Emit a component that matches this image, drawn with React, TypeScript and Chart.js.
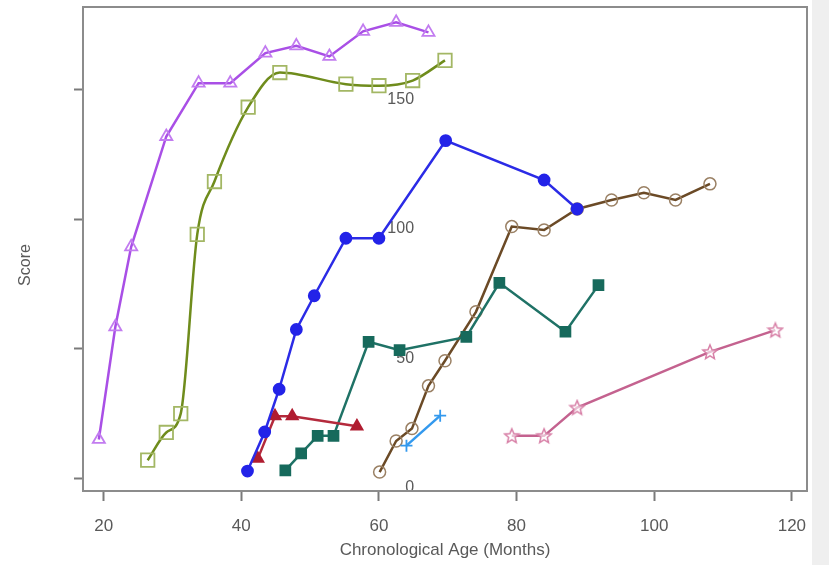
import React, { useEffect, useRef } from "react";
import { Chart, registerables } from "chart.js";

Chart.register(...registerables);

const X_TICKS = [20, 40, 60, 80, 100, 120];
const Y_TICKS = [0, 50, 100, 150];

const purpleAge = [19.3, 21.7, 24.0, 29.1, 33.8, 38.4, 43.5, 48.0, 52.8, 57.7, 62.5, 67.2];
const purpleScore = [15.0, 58.5, 89.4, 132.0, 152.6, 152.6, 164.2, 167.0, 162.9, 172.6, 176.1, 172.2];

const oliveAge = [26.4, 29.1, 31.2, 33.6, 36.1, 41.0, 45.6, 55.2, 60.0, 64.9, 69.6];
const oliveScore = [7.0, 17.7, 25.0, 94.2, 114.6, 143.3, 156.7, 152.2, 151.6, 153.6, 161.4];

const blueAge = [40.9, 43.4, 45.5, 48.0, 50.6, 55.2, 60.0, 69.7, 84.0, 88.8];
const blueScore = [2.8, 17.9, 34.4, 57.5, 70.5, 92.7, 92.7, 130.4, 115.2, 104.0];

const redAge = [42.4, 44.9, 47.4, 56.8];
const redScore = [7.6, 24.0, 24.0, 20.1];

const tealAge = [46.4, 48.7, 51.1, 53.4, 58.5, 63.0, 72.7, 77.5, 87.1, 91.9];
const tealScore = [3.1, 9.6, 16.4, 16.4, 52.7, 49.5, 54.6, 75.5, 56.6, 74.6];

const brownAge = [60.1, 62.5, 64.8, 67.2, 69.6, 74.1, 79.3, 84.0, 88.8, 93.8, 98.5, 103.1, 108.1];
const brownScore = [2.4, 14.4, 19.2, 35.7, 45.4, 64.3, 97.2, 95.9, 104.0, 107.5, 110.3, 107.5, 113.7];

const skyAge = [64.0, 68.9];
const skyScore = [12.6, 24.2];

const pinkAge = [79.3, 84.0, 88.8, 108.1, 117.6];
const pinkScore = [16.4, 16.4, 27.3, 48.8, 57.2];

const X_TITLE = "Chronological Age (Months)";
const Y_TITLE = "Score";

const pts = (xs: number[], ys: number[]) => xs.map((x, i) => ({ x, y: ys[i] }));

const TEXT = "#595959";
const FONT = "'Liberation Sans', Arial, sans-serif";

function makeStar(color: string) {
  const c = document.createElement("canvas");
  c.width = 18;
  c.height = 18;
  const g = c.getContext("2d")!;
  const cx = 9, cy = 9.5, R = 7.5, r = 3.4;
  g.beginPath();
  for (let i = 0; i < 10; i++) {
    const a = -Math.PI / 2 + (i * Math.PI) / 5;
    const rad = i % 2 === 0 ? R : r;
    const px = cx + rad * Math.cos(a);
    const py = cy + rad * Math.sin(a);
    if (i === 0) g.moveTo(px, py);
    else g.lineTo(px, py);
  }
  g.closePath();
  g.fillStyle = "rgba(255,255,255,0.6)";
  g.fill();
  g.strokeStyle = color;
  g.lineWidth = 1.5;
  g.stroke();
  return c;
}

export default function App() {
  const ref = useRef<HTMLCanvasElement | null>(null);

  useEffect(() => {
    document.body.style.margin = "0";
    const canvas = ref.current;
    if (!canvas) return;

    const bgPlugin = {
      id: "bg",
      beforeDraw(chart: any) {
        const { ctx, width, height } = chart;
        ctx.save();
        ctx.fillStyle = "#ffffff";
        ctx.fillRect(0, 0, width, height);
        ctx.fillStyle = "#efefef";
        ctx.fillRect(812, 0, width - 812, height);
        ctx.restore();
      },
    };

    // y tick labels are drawn inside the plot, right-aligned near x = 65 months
    const yLabelPlugin = {
      id: "ylabels",
      beforeDatasetsDraw(chart: any) {
        const { ctx } = chart;
        const ys = chart.scales.y;
        const xs = chart.scales.x;
        const right = xs.getPixelForValue(65.1);
        ctx.save();
        ctx.fillStyle = TEXT;
        ctx.font = `16px ${FONT}`;
        ctx.textAlign = "right";
        ctx.textBaseline = "middle";
        ys.ticks.forEach((t: any) => {
          ctx.fillText(String(t.value), right, ys.getPixelForValue(t.value) + 9.5);
        });
        ctx.restore();
      },
    };

    const framePlugin = {
      id: "frame",
      afterDatasetsDraw(chart: any) {
        const { ctx, chartArea } = chart;
        ctx.save();
        ctx.strokeStyle = "#8c8c8c";
        ctx.lineWidth = 2;
        ctx.strokeRect(chartArea.left, chartArea.top, chartArea.right - chartArea.left, chartArea.bottom - chartArea.top);
        ctx.restore();
      },
      afterDraw(chart: any) {
        const { ctx, chartArea } = chart;
        ctx.save();
        ctx.fillStyle = TEXT;
        ctx.font = `16px ${FONT}`;
        ctx.textAlign = "center";
        ctx.textBaseline = "middle";
        ctx.translate(26, (chartArea.top + chartArea.bottom) / 2 + 16);
        ctx.rotate(-Math.PI / 2);
        ctx.fillText(Y_TITLE, 0, 0);
        ctx.restore();
      },
    };

    const mk = (label: string, xs: number[], ys: number[], color: string, markColor: string, style: any, radius: number, filled: boolean, extra: any = {}) => ({
      label,
      data: pts(xs, ys),
      showLine: true,
      borderColor: color,
      borderWidth: 2.5,
      pointStyle: style,
      pointRadius: radius,
      pointHoverRadius: radius,
      pointBorderColor: markColor,
      pointBorderWidth: 1.8,
      pointBackgroundColor: filled ? markColor : "rgba(255,255,255,0)",
      ...extra,
    });

    const chart = new Chart(canvas, {
      type: "scatter",
      data: {
        datasets: [
          mk("blue", blueAge, blueScore, "#2b2be6", "#2323e8", "circle", 5.5, true),
          mk("red", redAge, redScore, "#b42a3c", "#b01c30", "triangle", 6.5, true),
          mk("teal", tealAge, tealScore, "#1f7266", "#176a5c", "rect", 7, true),
          mk("sky", skyAge, skyScore, "#3399ee", "#3399ee", "cross", 6, false),
          mk("brown", brownAge, brownScore, "#6b4a26", "#9a8064", "circle", 6, false, { pointBorderWidth: 1.5 }),
          mk("pink", pinkAge, pinkScore, "#c4628f", "#d77fa6", makeStar("#d77fa6"), 8, false),
          mk("olive", oliveAge, oliveScore, "#6f8c1c", "#a3b764", "rect", 9.5, false, { cubicInterpolationMode: "monotone" }),
          mk("purple", purpleAge, purpleScore, "#a94fe6", "#c27cf0", "triangle", 7, false),
        ],
      },
      options: {
        animation: false,
        responsive: false,
        devicePixelRatio: 1,
        layout: { autoPadding: false, padding: { top: 7, right: 22, bottom: 0, left: 0 } },
        plugins: { legend: { display: false }, tooltip: { enabled: false } },
        scales: {
          x: {
            type: "linear",
            min: 17,
            max: 122.2,
            afterBuildTicks: (s: any) => {
              s.ticks = X_TICKS.map((v) => ({ value: v }));
            },
            afterFit: (s: any) => {
              s.height = 74;
            },
            border: { display: false },
            grid: { display: true, drawOnChartArea: false, drawTicks: true, tickLength: 10, tickColor: "#7a7a7a", tickWidth: 2 },
            ticks: { color: TEXT, font: { size: 17, family: FONT }, padding: 15, maxRotation: 0 },
            title: { display: true, text: X_TITLE, color: TEXT, font: { size: 17, family: FONT }, padding: { top: 0, bottom: 4 } },
          },
          y: {
            type: "linear",
            min: -4.9,
            max: 182,
            afterBuildTicks: (s: any) => {
              s.ticks = Y_TICKS.map((v) => ({ value: v }));
            },
            afterFit: (s: any) => {
              s.width = 83;
            },
            border: { display: false },
            grid: { display: true, drawOnChartArea: false, drawTicks: true, tickLength: 9, tickColor: "#7a7a7a", tickWidth: 2 },
            ticks: { display: false },
            title: { display: false },
          },
        },
      },
      plugins: [bgPlugin, yLabelPlugin, framePlugin],
    } as any);

    return () => chart.destroy();
  }, []);

  return (
    <div style={{ position: "absolute", left: 0, top: 0, width: 829, height: 565 }}>
      <canvas ref={ref} width={829} height={565} style={{ width: 829, height: 565, display: "block" }} />
    </div>
  );
}
